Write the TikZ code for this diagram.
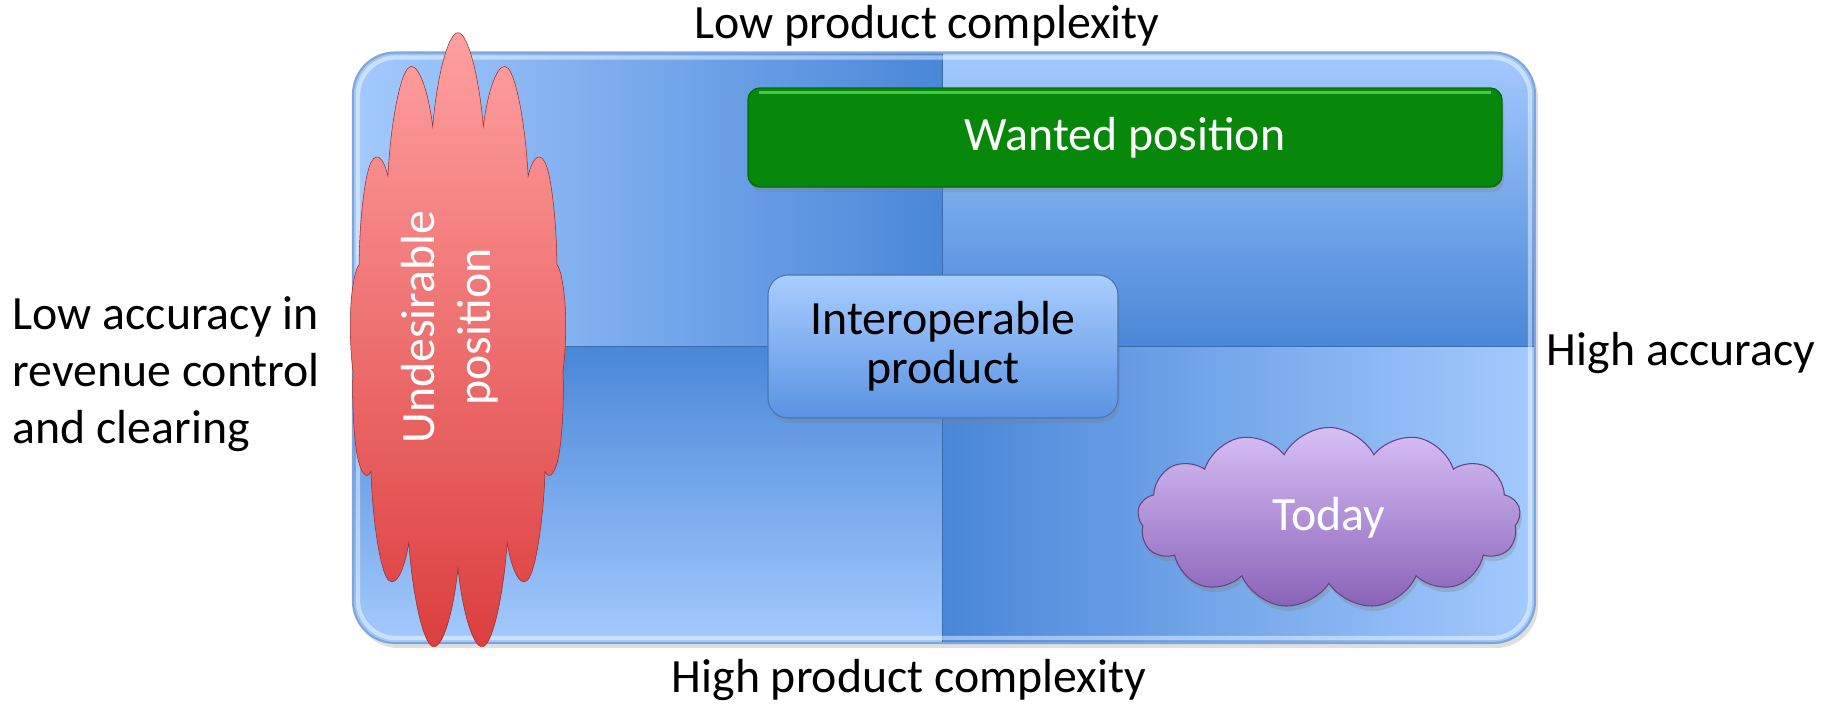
\documentclass[tikz,border=0pt]{standalone}
\usepackage{fontspec}
\setmainfont{Carlito}
\usepackage{tikz}
\usetikzlibrary{shapes.symbols}
\usetikzlibrary{shadows}
\definecolor{quadlight}{HTML}{A4CAFE}
\definecolor{quaddark}{HTML}{4A87D8}
\definecolor{framecol}{HTML}{7FA6D6}
\definecolor{wantgreen}{HTML}{07880A}
\definecolor{wantedge}{HTML}{056B07}
\definecolor{wanthigh}{HTML}{48C848}
\definecolor{interlight}{HTML}{A9CDFF}
\definecolor{interdark}{HTML}{5A92E2}
\definecolor{todaylight}{HTML}{D8C0F6}
\definecolor{todaydark}{HTML}{8A62B8}
\definecolor{badlight}{HTML}{FFA0A0}
\definecolor{baddark}{HTML}{DC3E3E}

\begin{document}
\begin{tikzpicture}[
  axislabel/.style={inner sep=0pt, font=\fontsize{13.6}{16.2}\selectfont},
  softshadow/.style={drop shadow={opacity=0.3, shadow xshift=0.02cm, shadow yshift=-0.05cm}},
  puffy/.style={cloud, cloud puffs=13, cloud puff arc=125, aspect=2.1, minimum width=3.83cm, minimum height=1.81cm}]
\useasboundingbox (0,0) rectangle (18.29,7.06);
\fill[gray, opacity=0.25, rounded corners=0.42cm] (3.56,0.58) rectangle (15.38,6.50);
\begin{scope}
\clip[rounded corners=0.42cm] (3.53,0.63) rectangle (15.35,6.535);
\shade[left color=quadlight, right color=quaddark] (3.53,3.595) rectangle (9.425,6.535);
\shade[top color=quadlight, bottom color=quaddark] (9.425,3.595) rectangle (15.35,6.535);
\shade[top color=quaddark, bottom color=quadlight] (3.53,0.63) rectangle (9.425,3.595);
\shade[left color=quaddark, right color=quadlight] (9.425,0.63) rectangle (15.35,3.595);
\end{scope}
\draw[quaddark!80!black, line width=0.5pt] (9.425,0.63) -- (9.425,6.535);
\draw[quaddark!80!black, line width=0.5pt] (3.53,3.595) -- (15.35,3.595);
\draw[white, opacity=0.45, line width=1.2pt, rounded corners=0.38cm] (3.58,0.68) rectangle (15.30,6.485);
\draw[framecol, line width=0.6pt, rounded corners=0.42cm] (3.53,0.63) rectangle (15.35,6.535);

\node[rounded corners=0.12cm, fill=wantgreen, draw=wantedge, softshadow,
  minimum width=7.54cm, minimum height=0.99cm, text=white,
  font=\fontsize{13.6}{16.2}\selectfont] (wanted) at (11.25,5.685) {Wanted position};
\draw[wanthigh, line width=0.8pt] ([shift={(0.12,-0.05)}]wanted.north west) -- ([shift={(-0.12,-0.05)}]wanted.north east);

\node[rounded corners=0.2cm, top color=interlight, bottom color=interdark, draw=interdark!80!black,
  line width=0.3pt, softshadow, minimum width=3.50cm, minimum height=1.43cm, align=center,
  font=\fontsize{13.6}{14}\selectfont] (interop) at (9.43,3.595) {Interoperable\\product};

\node[puffy, top color=todaylight, bottom color=todaydark, draw=todaydark!70!black, line width=0.3pt, softshadow,
  text=white, font=\fontsize{13.6}{16.2}\selectfont] (today) at (13.29,1.88) {Today};

\begin{scope}[shift={(4.58,3.62)}, xscale=0.564, yscale=3.44]
\node[puffy, transform shape, top color=badlight, bottom color=baddark, draw=baddark!70!black, line width=0.15pt] (undesired) at (0,0) {};
\end{scope}
\node[rotate=90, align=center, text=white, font=\fontsize{13.6}{15.9}\selectfont] (undesiredtext) at (4.50,3.79) {Undesirable\\position};

\node[axislabel] (lowcomplex) at (9.27,6.80) {Low product complexity};
\node[axislabel] (highcomplex) at (9.09,0.26) {High product complexity};
\node[axislabel] (highacc) at (16.81,3.53) {High accuracy};
\node[axislabel, anchor=west, align=left] (lowacc) at (0.12,3.32) {Low accuracy in\\revenue control\\and clearing};
\end{tikzpicture}
\end{document}
